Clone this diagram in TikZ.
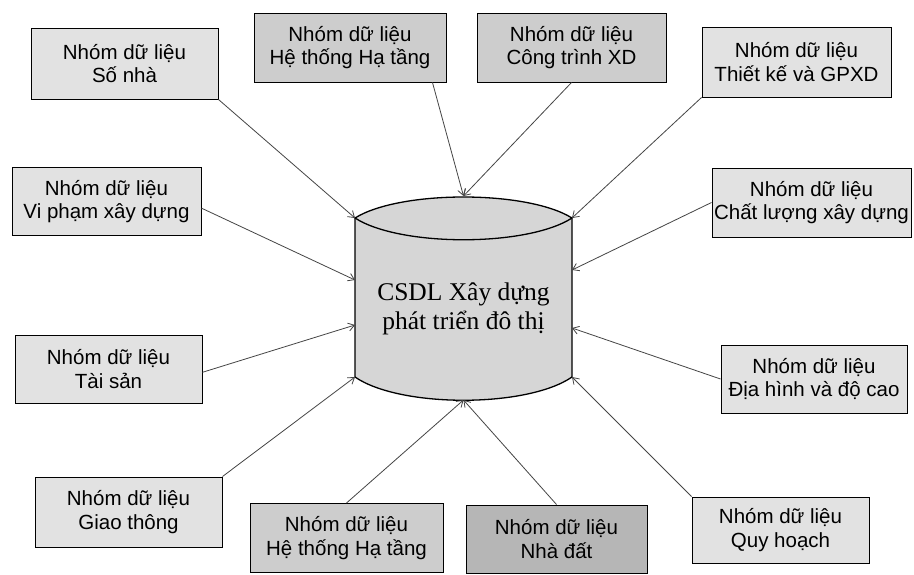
\documentclass[tikz,border=0pt]{standalone}
\usepackage{fontspec}
\setmainfont{Liberation Serif}
\newfontfamily\boxfont{Liberation Sans}
\usetikzlibrary{arrows.meta}
\definecolor{lightfill}{HTML}{E2E2E2}
\definecolor{midfill}{HTML}{CDCDCD}
\definecolor{darkfill}{HTML}{B6B6B6}
\definecolor{cylfill}{HTML}{D6D6D6}
\definecolor{linecol}{HTML}{454545}
\begin{document}
\begin{tikzpicture}[x=1pt,y=-1pt,
  databox/.style={draw=black,line width=1pt,fill=lightfill,align=center,
    font=\boxfont\fontsize{20.5}{23.5}\selectfont,inner sep=0pt},
  feed/.style={draw=linecol,line width=0.8pt,-{Straight Barb[length=6pt,width=8pt]}}]
\useasboundingbox (0,0) rectangle (914,574);
\fill[white] (0,0) rectangle (914,574);

% cylinder
\path[fill=cylfill,draw=black,line width=1.3pt]
  (355,218) .. controls (400,190) and (527,190) .. (572,218)
  -- (572,377) .. controls (527,408) and (400,408) .. (355,377) -- cycle;
\draw[line width=1.3pt] (355,218) .. controls (400,247) and (527,247) .. (572,218);
\node[align=center,font=\fontsize{25.5}{29}\selectfont] (db) at (463.5,309) {CSDL Xây dựng\\phát triển đô thị};

\coordinate (tl) at (355,218);
\coordinate (tc) at (463.5,196);
\coordinate (tr) at (572,218);
\coordinate (r1) at (572,270);
\coordinate (r2) at (572,328);
\coordinate (br) at (572,377);
\coordinate (bc) at (463.5,400);
\coordinate (bl) at (355,377);
\coordinate (l1) at (355,280);
\coordinate (l2) at (355,325);

% boxes
\node[databox,minimum width=187,minimum height=71] (so) at (124.5,63.5) {Nhóm dữ liệu\\Số nhà};
\node[databox,fill=midfill,minimum width=192,minimum height=69] (ht1) at (350,47.5) {Nhóm dữ liệu\\Hệ thống Hạ tầng};
\node[databox,fill=midfill,minimum width=189,minimum height=69] (ct) at (571.5,47.5) {Nhóm dữ liệu\\Công trình XD};
\node[databox,minimum width=189,minimum height=70] (tk) at (796.5,62) {Nhóm dữ liệu\\Thiết kế và GPXD};
\node[databox,minimum width=199,minimum height=69] (cl) at (811.5,202.5) {Nhóm dữ liệu\\Chất lượng xây dựng};
\node[databox,minimum width=189,minimum height=68] (vp) at (106.5,201.5) {Nhóm dữ liệu\\Vi phạm xây dựng};
\node[databox,minimum width=187,minimum height=68] (ts) at (108.5,369) {Nhóm dữ liệu\\Tài sản};
\node[databox,minimum width=186,minimum height=68] (dh) at (814,379) {Nhóm dữ liệu\\Địa hình và độ cao};
\node[databox,minimum width=187,minimum height=70] (gt) at (128.5,512) {Nhóm dữ liệu\\Giao thông};
\node[databox,fill=midfill,minimum width=193,minimum height=69] (ht2) at (346.5,538) {Nhóm dữ liệu\\Hệ thống Hạ tầng};
\node[databox,fill=darkfill,minimum width=181,minimum height=68] (nd) at (556.5,539) {Nhóm dữ liệu\\Nhà đất};
\node[databox,minimum width=177,minimum height=66] (qh) at (780.5,530) {Nhóm dữ liệu\\Quy hoạch};

% connectors
\draw[feed] (so.south east) -- (tl);
\draw[feed] (ht1.-23) -- (tc);
\draw[feed] (ct.south) -- (tc);
\draw[feed] (tk.south west) -- (tr);
\draw[feed] (cl.west) -- (r1);
\draw[feed] (vp.-4) -- (l1);
\draw[feed] (ts.-2) -- (l2);
\draw[feed] (dh.west) -- (r2);
\draw[feed] (gt.north east) -- (bl);
\draw[feed] (ht2.north) -- (bc);
\draw[feed] (nd.north) -- (bc);
\draw[feed] (qh.north west) -- (br);
\end{tikzpicture}
\end{document}
